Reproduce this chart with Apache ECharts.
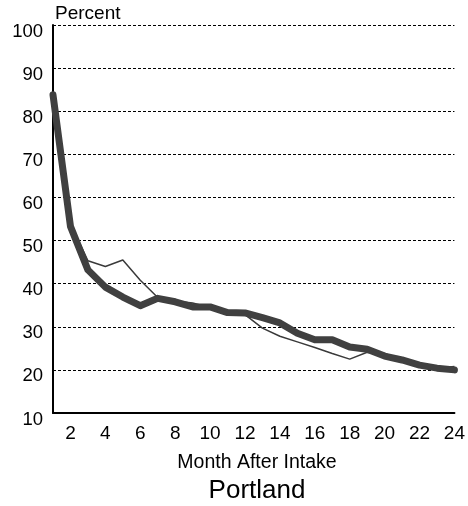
<!DOCTYPE html>
<html><head><meta charset="utf-8">
<script src="https://cdn.jsdelivr.net/npm/echarts@6/dist/echarts.min.js"></script>
<style>html,body{margin:0;padding:0;background:#fff}#c{width:468px;height:506px}</style>
</head><body><div id="c"></div>
<script>
const months = [1,2,3,4,5,6,7,8,9,10,11,12,13,14,15,16,17,18,19,20,21,22,23,24];
const thickSeries = [83.8,53.3,43.2,39.2,36.9,34.9,36.6,35.8,34.6,34.6,33.3,33.2,32.1,30.9,28.5,27,27,25.3,24.8,23.2,22.3,21.1,20.4,20];
const thinSeries = [83,54,45.3,44,45.5,40.8,36.8,36,35.5,34.5,33.2,32.8,29.7,27.8,26.5,25.2,23.8,22.5,24.1,23.8,22.3,21.1,20.4,20.8];
const yTicks = {min:10, max:100, interval:10};
const chart = echarts.init(document.getElementById('c'));
const F = 'Liberation Sans, Arial, sans-serif';
chart.setOption({
  animation:false,
  backgroundColor:'#fff',
  grid:{left:53, right:13, top:25, bottom:93},
  graphic:[
    {type:'text', x:55, y:14, style:{text:'Percent', font:'19px '+F, fill:'#000', verticalAlign:'middle'}},
    {type:'text', x:257, y:463, style:{text:'Month After Intake', font:'19.5px '+F, fill:'#000', align:'center', verticalAlign:'middle'}},
    {type:'text', x:257, y:491, style:{text:'Portland', font:'26px '+F, fill:'#000', align:'center', verticalAlign:'middle'}}
  ],
  xAxis:{
    type:'category', data:months, boundaryGap:false,
    axisLine:{lineStyle:{color:'#000', width:2}},
    axisTick:{show:false},
    axisLabel:{interval:(i,v)=>Number(v)%2===0, fontFamily:F, fontSize:19, color:'#000', margin:11},
    splitLine:{show:false}
  },
  yAxis:{
    type:'value', min:yTicks.min, max:yTicks.max, interval:yTicks.interval,
    axisLine:{show:true, lineStyle:{color:'#000', width:2}},
    axisTick:{show:false},
    axisLabel:{fontFamily:F, fontSize:18.5, color:'#000', margin:10,
      formatter:'{v|{value}}', rich:{v:{fontFamily:F, fontSize:18.5, color:'#000', padding:[13,0,0,0]}}},
    splitLine:{lineStyle:{color:'#000', type:[3,2], width:1}}
  },
  series:[
    {type:'line', data:thinSeries, symbol:'none', lineStyle:{color:'#3a3a3a', width:1.5}, z:2},
    {type:'line', data:thickSeries, symbol:'none', lineStyle:{color:'#404040', width:7, join:'round', cap:'round'}, z:3}
  ]
});
</script></body></html>
